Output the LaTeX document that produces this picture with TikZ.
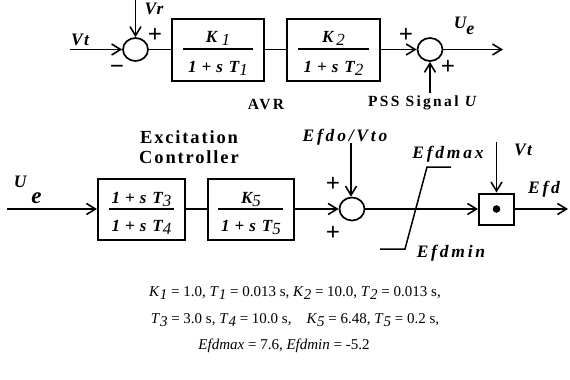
\documentclass[tikz,border=0pt]{standalone}
\usepackage{fontspec}
\setmainfont{Liberation Serif}
\usetikzlibrary{arrows.meta,shapes.geometric}
\newcommand{\sbi}[1]{\raisebox{-0.45ex}{\mdseries\itshape #1}}
\newcommand{\dn}[1]{1\hspace{5pt}+\hspace{5pt}s\hspace{6pt}T\sbi{#1}}
\begin{document}
\begin{tikzpicture}[x=1pt,y=-1pt,line width=1.7pt,
  arr/.style={-{Straight Barb[length=9pt,width=11pt,line width=1.6pt]}},
  blk/.style={draw,rectangle,inner sep=0pt,line width=2pt},
  sumc/.style={draw,ellipse,minimum width=25pt,minimum height=23pt,inner sep=0pt},
  lab/.style={font=\fontsize{17.5}{17.5}\selectfont\bfseries\itshape\addfontfeatures{LetterSpace=8},anchor=base,inner sep=0pt},
  labw/.style={font=\fontsize{17.5}{17.5}\selectfont\bfseries\itshape\addfontfeatures{LetterSpace=16},anchor=base,inner sep=0pt},
  fr/.style={font=\fontsize{17}{17}\selectfont\bfseries\itshape,anchor=base,inner sep=0pt},
  sg/.style={font=\fontsize{25}{25}\selectfont\bfseries,inner sep=0pt},
  bl/.style={font=\fontsize{15.5}{15.5}\selectfont\bfseries\addfontfeatures{LetterSpace=15},anchor=base,inner sep=0pt},
  blx/.style={font=\fontsize{18.5}{18.5}\selectfont\bfseries\addfontfeatures{LetterSpace=10},anchor=base,inner sep=0pt},
  eq/.style={font=\fontsize{15}{15}\selectfont,anchor=base,inner sep=0pt}]
\useasboundingbox (0,0) rectangle (570,380);
% ---------- top row ----------
\node[sumc] (s1) at (135.5,49.5) {};
\node[blk,minimum width=92pt,minimum height=62pt] (b1) at (218,50) {};
\node[blk,minimum width=93pt,minimum height=62pt] (b2) at (333.5,50) {};
\node[sumc] (s2) at (430,49.5) {};
\coordinate (vtin) at (70,49.5);
\coordinate (vrtop) at (135.5,0);
\coordinate (ueout) at (503,49.5);
\coordinate (pss) at (430,93);
\draw[arr] (vtin) -- (s1);
\draw[arr] (vrtop) -- (s1);
\draw (s1) -- (b1.west |- s1);
\draw (b1.east |- s1) -- (b2.west |- s1);
\draw[arr] (b2.east |- s2) -- (s2);
\draw[arr] (pss) -- (s2);
\draw[arr] (s2) -- (ueout);
% fractions
\draw (183,49) -- (253,49);
\node[fr] (n1) at (218,42) {K \sbi{1}};
\node[fr] (d1) at (218,72) {\dn{1}};
\draw (298,49) -- (369,49);
\node[fr] (n2) at (333.5,42) {K\,\sbi{2}};
\node[fr] (d2) at (333.5,72) {\dn{2}};
% labels
\node[lab] (lvt) at (80,45) {Vt};
\node[lab] (lvr) at (154,14) {Vr};
\node[sg] (p1) at (155,35) {+};
\node[sg] (m1) at (117,70) {\textminus};
\node[sg] (p2) at (406,35) {+};
\node[sg] (p3) at (448,67) {+};
\node[lab,anchor=base west] (lue) at (453,28) {U\raisebox{-6pt}{\fontsize{18}{18}\selectfont e}};
\node[bl] (avr) at (266,109) {AVR};
\node[bl] (lpss) at (423.5,106) {PSS Signal \textit{U}};
% ---------- bottom row ----------
\node[blk,minimum width=87pt,minimum height=61pt] (b3) at (141.5,209) {};
\node[blk,minimum width=86pt,minimum height=61pt] (b4) at (251,209) {};
\node[sumc] (s3) at (352,209) {};
\node[blk,minimum width=35pt,minimum height=31pt] (m) at (496.5,209) {};
\fill (m.center) circle (3.8pt);
\coordinate (uein) at (7,209);
\coordinate (efdotop) at (351,143);
\coordinate (vttop) at (496.5,142);
\coordinate (efdout) at (568,209);
\draw[arr] (uein) -- (b3);
\draw (b3) -- (b4);
\draw[arr] (b4) -- (s3);
\draw[arr] (efdotop) -- (s3.north -| efdotop);
\draw[arr] (s3) -- (m);
\draw[arr] (vttop) -- (m);
\draw[arr] (m) -- (efdout);
% limiter
\coordinate (l1) at (380,249);
\coordinate (l2) at (405,249);
\coordinate (l3) at (427,167);
\coordinate (l4) at (451,167);
\draw[line width=1.5pt] (l1) -- (l2) -- (l3) -- (l4);
% fractions
\draw (109,209) -- (174,209);
\node[fr] (n3) at (141.5,203) {\dn{3}};
\node[fr] (d3) at (141.5,231) {\dn{4}};
\draw (218,209) -- (283,209);
\node[fr] (n4) at (251,203) {K\sbi{5}};
\node[fr] (d4) at (251,231) {\dn{5}};
% labels
\node[lab,anchor=base west] (lue2) at (13,187) {U\hspace{5pt}\raisebox{-16pt}{\fontsize{23}{23}\selectfont e}};
\node[blx] (ex1) at (189,143) {Excitation};
\node[blx] (ex2) at (189,163) {Controller};
\node[labw] (lefdo) at (345,141) {Efdo/Vto};
\node[labw] (lmax) at (448,158) {Efdmax};
\node[lab] (lvt2) at (523,155) {Vt};
\node[labw] (lefd) at (544,193) {Efd};
\node[labw] (lmin) at (451,257) {Efdmin};
\node[sg] (p4) at (333,184) {+};
\node[sg] (p5) at (333,233) {+};
% ---------- parameters ----------
\node[eq] (e1) at (295,296) {\textit{K}\sbi{1} = 1.0, \textit{T}\sbi{1} = 0.013 s, \textit{K}\sbi{2} = 10.0, \textit{T}\sbi{2} = 0.013 s,};
\node[eq] (e2) at (295,323) {\textit{T}\sbi{3} = 3.0 s, \textit{T}\sbi{4} = 10.0 s,\quad \textit{K}\sbi{5} = 6.48, \textit{T}\sbi{5} = 0.2 s,};
\node[eq] (e3) at (284,349) {\textit{Efdmax} = 7.6, \textit{Efdmin} = -5.2};
\end{tikzpicture}
\end{document}
